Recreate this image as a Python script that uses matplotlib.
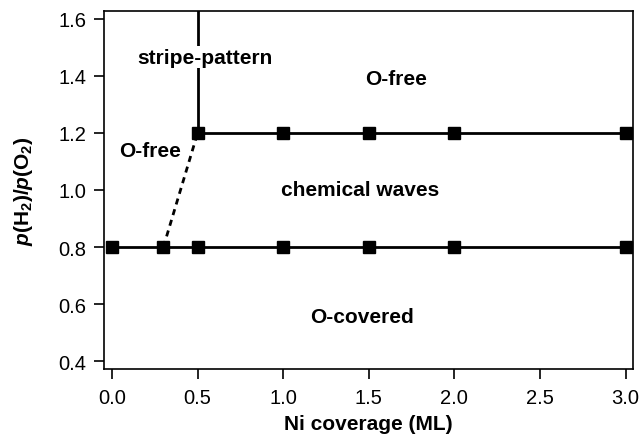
import matplotlib.pyplot as plt

plt.rcParams['font.family'] = ['Liberation Sans', 'DejaVu Sans']
plt.rcParams['mathtext.fontset'] = 'custom'
plt.rcParams['mathtext.rm'] = 'Liberation Sans:bold'
plt.rcParams['mathtext.it'] = 'Liberation Sans:italic:bold'

# phase boundaries (Ni coverage in ML, pressure ratio)
lower_x = [0.0, 0.3, 0.5, 1.0, 1.5, 2.0, 3.0]
lower_y = [0.8, 0.8, 0.8, 0.8, 0.8, 0.8, 0.8]
upper_x = [0.5, 1.0, 1.5, 2.0, 3.0]
upper_y = [1.2, 1.2, 1.2, 1.2, 1.2]
stripe_x = [0.5, 0.5]
stripe_y = [1.2, 1.7]
dash_x = [0.3, 0.5]
dash_y = [0.8, 1.2]

labels = ["stripe-pattern", "O-free", "O-free", "chemical waves", "O-covered"]
label_x = [0.54, 1.66, 0.22, 1.45, 1.46]
label_y = [1.465, 1.39, 1.14, 1.00, 0.555]

fig, ax = plt.subplots(figsize=(6.4, 4.39), dpi=100)
fig.subplots_adjust(left=0.1625, right=0.989, top=0.973, bottom=0.157)

ax.plot(stripe_x, stripe_y, color="black", lw=2, zorder=2)
ax.plot(dash_x, dash_y, color="black", lw=2, ls=(0, (2.2, 1.8)), zorder=2)
ax.plot(lower_x, lower_y, color="black", lw=2, marker="s", ms=9, zorder=3)
ax.plot(upper_x, upper_y, color="black", lw=2, marker="s", ms=9, zorder=3)

for txt, tx, ty in zip(labels, label_x, label_y):
    ax.text(tx, ty, txt, ha="center", va="center", fontsize=15, fontweight="bold",
            zorder=4, bbox=dict(facecolor="white", edgecolor="none", pad=1))

ax.set_xlim(-0.047, 3.043)
ax.set_ylim(0.372, 1.628)
ax.set_xticks([0.0, 0.5, 1.0, 1.5, 2.0, 2.5, 3.0])
ax.set_yticks([0.4, 0.6, 0.8, 1.0, 1.2, 1.4, 1.6])
ax.xaxis.set_major_formatter(plt.FormatStrFormatter("%.1f"))
ax.yaxis.set_major_formatter(plt.FormatStrFormatter("%.1f"))
ax.tick_params(direction="out", length=7.5, width=1.2, labelsize=14.5, pad=5)
ax.tick_params(axis="x", pad=6)

for sp in ax.spines.values():
    sp.set_linewidth(1.2)

ax.set_xlabel("Ni coverage (ML)", fontsize=15, fontweight="bold", labelpad=5)
ax.set_ylabel("$p$(H$_2$)/$p$(O$_2$)", fontsize=15, fontweight="bold", labelpad=17)

fig.savefig("out.png", dpi=100)
